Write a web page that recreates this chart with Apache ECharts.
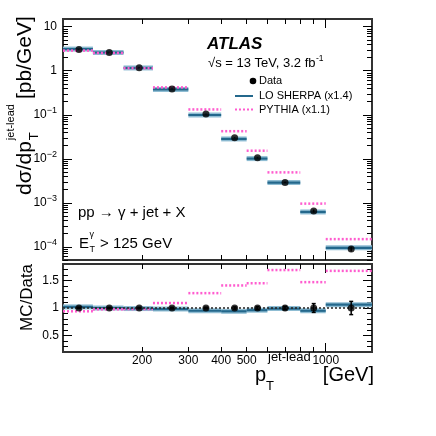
<!DOCTYPE html>
<html>
<head>
<meta charset="utf-8">
<script src="https://cdn.jsdelivr.net/npm/echarts@6.0.0/dist/echarts.min.js"></script>
<style>
  html, body { margin: 0; padding: 0; background: #fff; }
  #chart { width: 436px; height: 436px; }
</style>
</head>
<body>
<div id="chart"></div>
<script>
// p_T^jet-lead bins [GeV]
const binLow = [100, 130, 170, 220, 300, 400, 500, 600, 800, 1000];
const binHigh = [130, 170, 220, 300, 400, 500, 600, 800, 1000, 1500];
const binCenter = [115, 150, 195, 260, 350, 450, 550, 700, 900, 1250];
// measured dsigma/dpT [pb/GeV]
const dataXsec = [3.05, 2.6, 1.17, 0.384, 0.104, 0.030, 0.0105, 0.0029, 6.5e-4, 8.9e-5];
const dataRelErr = [0.01, 0.01, 0.01, 0.012, 0.015, 0.02, 0.025, 0.03, 0.08, 0.12];
// MC / data
const sherpaRatio = [1.02, 1.0, 0.99, 0.98, 0.95, 0.94, 0.96, 0.99, 0.95, 1.06];
const pythiaRatio = [0.94, 0.975, 0.98, 1.09, 1.27, 1.41, 1.45, 1.69, 1.47, 1.675];

// ticks
const xMinorTicks = [200, 300, 400, 500, 600, 700, 800, 900];
const xMajorTicks = [1000];
const xTickLabels = [200, 300, 400, 500, 1000];
const yDecades = [1e-4, 1e-3, 1e-2, 1e-1, 1, 10];
const ratioMajor = [0.5, 1, 1.5];
const ratioMinor = [0.3, 0.4, 0.6, 0.7, 0.8, 0.9, 1.1, 1.2, 1.3, 1.4, 1.6, 1.7];

const yMinorTicks = [];
[1e-5, 1e-4, 1e-3, 1e-2, 1e-1, 1].forEach(d => {
  for (let k = 2; k <= 9; k++) {
    const v = +(k * d).toPrecision(3);
    if (v >= 5e-5 && v <= 15) yMinorTicks.push(v);
  }
});

const FONT = '"Liberation Sans", Arial, Helvetica, sans-serif';
const BLUE = '#24688c';
const BAND = '#8fbdd3';
const PINK = '#ff5ccf';

const chart = echarts.init(document.getElementById('chart'));

function xAx(grid, pos, ticks, len, labels) {
  return {
    type: 'log', gridIndex: grid, position: pos, min: 100, max: 1500,
    axisLine: { show: false, onZero: false },
    splitLine: { show: false },
    axisTick: { show: true, inside: true, length: len, customValues: ticks, lineStyle: { color: '#000', width: 1 } },
    axisLabel: labels ? {
      show: true, customValues: labels, margin: 3, color: '#000', fontSize: 12, fontFamily: FONT,
      formatter: v => String(Math.round(v))
    } : { show: false }
  };
}

function yLog(pos, ticks, len, labels) {
  return {
    type: 'log', gridIndex: 0, position: pos, min: 5e-5, max: 15,
    axisLine: { show: false, onZero: false },
    splitLine: { show: false },
    axisTick: { show: true, inside: true, length: len, customValues: ticks, lineStyle: { color: '#000', width: 1 } },
    axisLabel: labels ? {
      show: true, customValues: labels, margin: 6, color: '#000', fontSize: 12, fontFamily: FONT, lineHeight: 18,
      formatter: v => {
        const e = Math.round(Math.log10(v));
        if (e === 0) return '1';
        if (e === 1) return '10';
        return '10{sup|\u2212' + (-e) + '}';
      },
      rich: { sup: { fontSize: 9, lineHeight: 9, verticalAlign: 'top', fontFamily: FONT, color: '#000' } }
    } : { show: false }
  };
}

function yRatio(pos, ticks, len, labels) {
  return {
    type: 'value', gridIndex: 1, position: pos, min: 0.2, max: 1.8,
    axisLine: { show: false, onZero: false },
    splitLine: { show: false },
    axisTick: { show: true, inside: true, length: len, customValues: ticks, lineStyle: { color: '#000', width: 1 } },
    axisLabel: labels ? {
      show: true, customValues: labels, margin: 4, color: '#000', fontSize: 12, fontFamily: FONT,
      formatter: v => String(+v.toFixed(1))
    } : { show: false }
  };
}

function segRender(color, width, dash) {
  return function (params, api) {
    const p0 = api.coord([api.value(0), api.value(2)]);
    const p1 = api.coord([api.value(1), api.value(2)]);
    return {
      type: 'line',
      shape: { x1: p0[0], y1: p0[1], x2: p1[0], y2: p1[1] },
      style: { stroke: color, lineWidth: width, lineDash: dash || null }
    };
  };
}

function errRender(cap) {
  return function (params, api) {
    const y = api.value(1), e = api.value(2);
    const top = api.coord([api.value(0), y * (1 + e)]);
    const bot = api.coord([api.value(0), y * (1 - e)]);
    const ch = [{ type: 'line', shape: { x1: top[0], y1: top[1], x2: bot[0], y2: bot[1] }, style: { stroke: '#000', lineWidth: 1.5 } }];
    if (cap) {
      ch.push({ type: 'line', shape: { x1: top[0] - cap, y1: top[1], x2: top[0] + cap, y2: top[1] }, style: { stroke: '#000', lineWidth: 1.5 } });
      ch.push({ type: 'line', shape: { x1: bot[0] - cap, y1: bot[1], x2: bot[0] + cap, y2: bot[1] }, style: { stroke: '#000', lineWidth: 1.5 } });
    }
    return { type: 'group', children: ch };
  };
}

const sherpaUpper = binLow.map((lo, i) => [lo, binHigh[i], dataXsec[i] * sherpaRatio[i]]);
const pythiaUpper = binLow.map((lo, i) => [lo, binHigh[i], dataXsec[i] * pythiaRatio[i]]);
const dataUpper = binCenter.map((x, i) => [x, dataXsec[i]]);
const errUpper = binCenter.map((x, i) => [x, dataXsec[i], dataRelErr[i]]);
const sherpaLower = binLow.map((lo, i) => [lo, binHigh[i], sherpaRatio[i]]);
const pythiaLower = binLow.map((lo, i) => [lo, binHigh[i], pythiaRatio[i]]);
const dataLower = binCenter.map(x => [x, 1]);
const errLower = binCenter.map((x, i) => [x, 1, dataRelErr[i]]);

// text helpers
const mctx = document.createElement('canvas').getContext('2d');
function tw(str, size, weight, style) {
  mctx.font = (style || 'normal') + ' ' + (weight || 'normal') + ' ' + size + 'px ' + FONT;
  return mctx.measureText(str).width;
}
function txt(str, x, baseline, size, opts) {
  opts = opts || {};
  const fontStr = (opts.style || 'normal') + ' ' + (opts.weight || 'normal') + ' ' + size + 'px ' + FONT;
  return {
    type: 'text', silent: true, z: 100,
    style: {
      text: str, x: x, y: baseline - 0.3465 * size, font: fontStr, fill: '#000',
      align: opts.align || 'left', textAlign: opts.align || 'left',
      verticalAlign: 'middle', textVerticalAlign: 'middle'
    }
  };
}

// y title pieces (local coords of rotated group)
const w1 = tw('d\u03c3/dp', 21);
const wSup = tw('jet-lead', 11);
const yTitle = {
  type: 'group', x: 32, y: 195, rotation: Math.PI / 2,
  children: [
    txt('d\u03c3/dp', 0, 0, 21),
    txt('T', w1 + 1, 7, 13),
    txt('jet-lead', w1 + 1, -17, 11),
    txt('[pb/GeV]', w1 + wSup + 6, 0, 21)
  ]
};
const ratioTitle = {
  type: 'group', x: 33, y: 331, rotation: Math.PI / 2,
  children: [txt('MC/Data', 0, 0, 17)]
};

const sqrtW = tw('\u221as = 13 TeV, 3.2 fb', 13);
const eW = tw('E', 15);

chart.setOption({
  animation: false,
  backgroundColor: '#fff',
  grid: [
    { left: 63, top: 19, width: 309, height: 241, show: true, borderColor: '#333', borderWidth: 2, containLabel: false, outerBoundsMode: 'none' },
    { left: 63, top: 264, width: 309, height: 88, show: true, borderColor: '#333', borderWidth: 2, containLabel: false, outerBoundsMode: 'none' }
  ],
  xAxis: [
    xAx(0, 'bottom', xMinorTicks, 5),
    xAx(0, 'bottom', xMajorTicks, 9),
    xAx(0, 'top', xMinorTicks, 5),
    xAx(0, 'top', xMajorTicks, 9),
    xAx(1, 'bottom', xMinorTicks, 5, xTickLabels),
    xAx(1, 'bottom', xMajorTicks, 9),
    xAx(1, 'top', xMinorTicks, 5),
    xAx(1, 'top', xMajorTicks, 9)
  ],
  yAxis: [
    yLog('left', yDecades, 9, yDecades),
    yLog('left', yMinorTicks, 5),
    yLog('right', yDecades, 9),
    yLog('right', yMinorTicks, 5),
    yRatio('left', ratioMajor, 9, ratioMajor),
    yRatio('left', ratioMinor, 5),
    yRatio('right', ratioMajor, 9),
    yRatio('right', ratioMinor, 5)
  ],
  series: [
    // upper panel
    { type: 'custom', xAxisIndex: 0, yAxisIndex: 0, z: 2, encode: { x: [0, 1], y: 2 }, data: sherpaUpper, renderItem: segRender(BAND, 5) },
    { type: 'custom', xAxisIndex: 0, yAxisIndex: 0, z: 3, encode: { x: [0, 1], y: 2 }, data: sherpaUpper, renderItem: segRender(BLUE, 2.2) },
    { type: 'custom', xAxisIndex: 0, yAxisIndex: 0, z: 4, encode: { x: [0, 1], y: 2 }, data: pythiaUpper, renderItem: segRender(PINK, 2.5, [2, 2]) },
    { type: 'custom', xAxisIndex: 0, yAxisIndex: 0, z: 5, encode: { x: 0, y: 1 }, data: errUpper, renderItem: errRender(0) },
    { type: 'scatter', xAxisIndex: 0, yAxisIndex: 0, z: 6, symbol: 'circle', symbolSize: 7, itemStyle: { color: '#000' }, data: dataUpper },
    // ratio panel
    { type: 'custom', xAxisIndex: 4, yAxisIndex: 4, z: 2, encode: { x: [0, 1], y: 2 }, data: sherpaLower, renderItem: segRender(BAND, 5) },
    { type: 'custom', xAxisIndex: 4, yAxisIndex: 4, z: 3, encode: { x: [0, 1], y: 2 }, data: sherpaLower, renderItem: segRender(BLUE, 2.2) },
    { type: 'custom', xAxisIndex: 4, yAxisIndex: 4, z: 4, encode: { x: [0, 1], y: 2 }, data: pythiaLower, renderItem: segRender(PINK, 2.5, [2, 2]) },
    { type: 'custom', xAxisIndex: 4, yAxisIndex: 4, z: 5, encode: { x: 0, y: 1 }, data: errLower, renderItem: errRender(2) },
    {
      type: 'scatter', xAxisIndex: 4, yAxisIndex: 4, z: 6, symbol: 'circle', symbolSize: 7, itemStyle: { color: '#000' }, data: dataLower,
      markLine: { silent: true, symbol: 'none', label: { show: false }, lineStyle: { type: [2, 2], color: '#222', width: 1.5 }, data: [{ yAxis: 1 }] }
    }
  ],
  graphic: [
    yTitle,
    ratioTitle,
    // x title
    txt('p', 255, 382, 20),
    txt('T', 266, 391, 13),
    txt('jet-lead', 268, 362, 13),
    txt('[GeV]', 374, 382, 20, { align: 'right' }),
    // ATLAS label
    txt('ATLAS', 207, 50, 17, { weight: 'bold', style: 'italic' }),
    txt('\u221as = 13 TeV, 3.2 fb', 208, 68, 13),
    txt('-1', 208 + sqrtW + 0.5, 62, 8.5),
    // legend
    { type: 'circle', z: 100, silent: true, shape: { cx: 253, cy: 81, r: 3.3 }, style: { fill: '#000' } },
    txt('Data', 259, 85, 11),
    { type: 'line', z: 100, silent: true, shape: { x1: 235, y1: 96, x2: 253, y2: 96 }, style: { stroke: BLUE, lineWidth: 2 } },
    txt('LO SHERPA (x1.4)', 259, 100, 11),
    { type: 'line', z: 100, silent: true, shape: { x1: 235, y1: 109.5, x2: 253, y2: 109.5 }, style: { stroke: PINK, lineWidth: 2, lineDash: [2, 2] } },
    txt('PYTHIA (x1.1)', 259, 113.5, 11),
    // process labels
    txt('pp \u2192 \u03b3 + jet + X', 78, 218, 15),
    txt('E', 79, 249, 15),
    txt('T', 79 + eW + 0.5, 253, 9),
    txt('\u03b3', 79 + eW + 0.5, 238, 9),
    txt('> 125 GeV', 100, 249, 15)
  ]
});
</script>
</body>
</html>
